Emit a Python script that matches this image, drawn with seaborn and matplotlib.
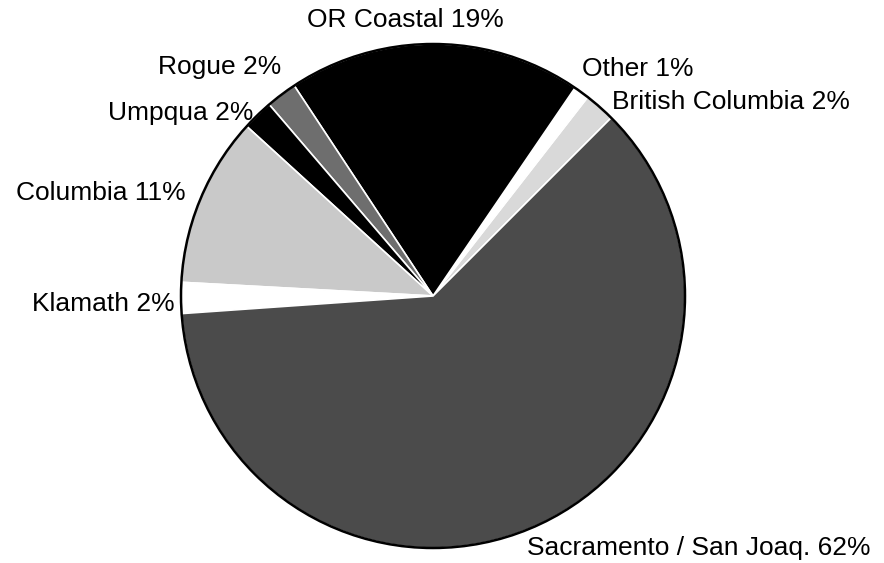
import matplotlib
matplotlib.use("Agg")
import matplotlib.pyplot as plt
import seaborn as sns

# data, counterclockwise from the British Columbia slice
regions = ['British Columbia', 'Other', 'OR Coastal', 'Rogue', 'Umpqua',
           'Columbia', 'Klamath', 'Sacramento / San Joaq.']
percent = [2, 1, 19, 2, 2, 11, 2, 62]

colors = ['#d9d9d9', '#ffffff', '#000000', '#6e6e6e', '#000000',
          '#c9c9c9', '#ffffff', '#4b4b4b']

# label anchor (x, y, horizontal alignment) in pie radius units
label_pos = {
    'British Columbia': (0.71, 0.77, 'left'),
    'Other': (0.59, 0.90, 'left'),
    'OR Coastal': (-0.11, 1.095, 'center'),
    'Rogue': (-0.845, 0.91, 'center'),
    'Umpqua': (-1.0, 0.725, 'center'),
    'Columbia': (-1.32, 0.41, 'center'),
    'Klamath': (-1.31, -0.03, 'center'),
    'Sacramento / San Joaq.': (0.375, -1.0, 'left'),
}

sns.set_theme(style="white")
plt.rcParams['font.family'] = ['Liberation Sans', 'DejaVu Sans']

fig = plt.figure(figsize=(8.84, 5.63), dpi=100)
ax = fig.add_axes([0, 0, 1, 1])

wedges, _ = ax.pie(percent, colors=colors, startangle=45, counterclock=True,
                   radius=1.0, wedgeprops=dict(edgecolor='white', linewidth=1.2))
# black outer rim
ax.add_patch(plt.Circle((0, 0), 1.0, fill=False, edgecolor='black', linewidth=1.8))

for name, p in zip(regions, percent):
    x, y, ha = label_pos[name]
    ax.text(x, y, f'{name} {p}%', ha=ha, va='center', fontsize=19, color='black')

ax.set_xlim(-433 / 252, (884 - 433) / 252)
ax.set_ylim(-(563 - 296) / 252, 296 / 252)
ax.set_aspect('equal')
ax.axis('off')

fig.savefig('out.png', dpi=100)
